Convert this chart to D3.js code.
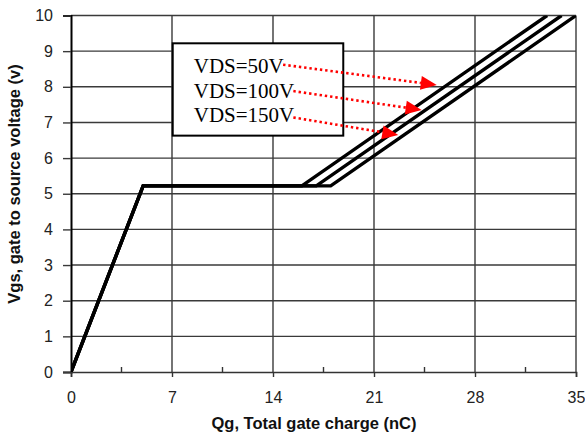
<!DOCTYPE html>
<html>
<head>
<meta charset="utf-8">
<script src="https://cdn.jsdelivr.net/npm/d3@7"></script>
<style>
  body { margin: 0; background: #fff; }
  svg { display: block; }
</style>
</head>
<body>
<svg width="585" height="439"></svg>
<script>
// curve data: Qg (nC) at each break point, one row per VDS
var seriesNames = ["VDS=50V", "VDS=100V", "VDS=150V"];
var qgPoints = [[0, 5, 16, 33], [0, 5, 17, 34], [0, 5, 18, 35]];
var vgsPoints = [0, 5.22, 5.22, 10];

var xTicks = [0, 7, 14, 21, 28, 35];
var xMinor = [3.5, 10.5, 17.5, 24.5, 31.5];
var yTicks = [0, 1, 2, 3, 4, 5, 6, 7, 8, 9, 10];

// legend box and arrow annotations, in data units
var boxQg = [7.05, 18.87];
var boxVgs = [9.22, 6.63];
var arrowFrom = [[14.7, 8.62], [15.41, 7.88], [15.41, 7.14]];
var arrowTo = [[25.35, 8.05], [24.3, 7.35], [22.68, 6.65]];

var svg = d3.select("svg");
var x = d3.scaleLinear().domain([0, 35]).range([71, 576]);
var y = d3.scaleLinear().domain([0, 10]).range([372, 15.5]);

// clip
svg.append("clipPath").attr("id", "plot")
    .append("rect")
    .attr("x", x(0)).attr("y", y(10))
    .attr("width", x(35) - x(0)).attr("height", y(0) - y(10));

// horizontal grid
svg.append("g").selectAll("line")
    .data(yTicks.slice(1))
    .enter().append("line")
    .attr("x1", x(0)).attr("x2", x(35))
    .attr("y1", function (d) { return y(d); })
    .attr("y2", function (d) { return y(d); })
    .style("stroke", "#3a3a3a")
    .style("stroke-width", 1.4);

// vertical grid
svg.append("g").selectAll("line")
    .data(xTicks.slice(1))
    .enter().append("line")
    .attr("x1", function (d) { return x(d); })
    .attr("x2", function (d) { return x(d); })
    .attr("y1", y(0)).attr("y2", y(10))
    .style("stroke", "#3a3a3a")
    .style("stroke-width", 1.4);

// y axis
var yAxis = svg.append("g")
    .attr("transform", "translate(" + x(0) + ",0)")
    .call(d3.axisLeft(y).tickValues(yTicks).tickSize(8).tickPadding(10).tickFormat(d3.format("d")));
yAxis.select(".domain").style("stroke", "#000").style("stroke-width", 2);
yAxis.selectAll(".tick line").style("stroke", "#3a3a3a").style("stroke-width", 1.4);
yAxis.selectAll("text")
    .style("font-family", "Liberation Sans, Arial, sans-serif")
    .style("font-size", "16px")
    .style("fill", "#222");

// x axis
var xAxis = svg.append("g")
    .attr("transform", "translate(0," + y(0) + ")")
    .call(d3.axisBottom(x).tickValues(xTicks).tickSize(5).tickPadding(15).tickFormat(d3.format("d")));
xAxis.select(".domain").style("stroke", "#333").style("stroke-width", 1.6);
xAxis.selectAll(".tick line").style("stroke", "#333").style("stroke-width", 1.4);
xAxis.selectAll("text")
    .style("font-family", "Liberation Sans, Arial, sans-serif")
    .style("font-size", "16px")
    .style("fill", "#222");

// minor ticks inside the plot
svg.append("g").selectAll("line")
    .data(xMinor)
    .enter().append("line")
    .attr("x1", function (d) { return x(d); })
    .attr("x2", function (d) { return x(d); })
    .attr("y1", y(0)).attr("y2", y(0) - 5)
    .style("stroke", "#333")
    .style("stroke-width", 1.4);

// curves
var line = d3.line()
    .x(function (d) { return x(d[0]); })
    .y(function (d) { return y(d[1]); });

svg.append("g").attr("clip-path", "url(#plot)")
    .selectAll("path")
    .data(qgPoints)
    .enter().append("path")
    .attr("d", function (row) {
        return line(row.map(function (q, i) { return [q, vgsPoints[i]]; }));
    })
    .style("fill", "none")
    .style("stroke", "#000")
    .style("stroke-width", 3.4)
    .style("stroke-linejoin", "miter");

// legend box
svg.append("rect")
    .attr("x", x(boxQg[0])).attr("y", y(boxVgs[0]))
    .attr("width", x(boxQg[1]) - x(boxQg[0]))
    .attr("height", y(boxVgs[1]) - y(boxVgs[0]))
    .style("fill", "#fff")
    .style("stroke", "#000")
    .style("stroke-width", 2);

svg.append("g").selectAll("text")
    .data(seriesNames)
    .enter().append("text")
    .attr("x", x(boxQg[0]) + 21)
    .attr("y", function (d, i) { return y(boxVgs[0]) + 30 + i * 24.5; })
    .style("font-family", "Liberation Serif, Times New Roman, serif")
    .style("font-size", "21px")
    .style("fill", "#000")
    .text(function (d) { return d; });

// red dotted arrows
var arrows = svg.append("g");
arrowFrom.forEach(function (f, i) {
    var t = arrowTo[i];
    var x0 = x(f[0]), y0 = y(f[1]), x1 = x(t[0]), y1 = y(t[1]);
    var dx = x1 - x0, dy = y1 - y0, len = Math.sqrt(dx * dx + dy * dy);
    var ux = dx / len, uy = dy / len;
    var bx = x1 - ux * 16, by = y1 - uy * 16;
    arrows.append("line")
        .attr("x1", x0).attr("y1", y0)
        .attr("x2", bx).attr("y2", by)
        .style("stroke", "#ff0000")
        .style("stroke-width", 2.6)
        .style("stroke-dasharray", "2.4,2.9");
    arrows.append("path")
        .attr("d", "M" + x1 + "," + y1 +
            "L" + (bx - uy * 7) + "," + (by + ux * 7) +
            "L" + (bx + uy * 7) + "," + (by - ux * 7) + "Z")
        .style("fill", "#ff0000");
});

// axis titles
svg.append("text")
    .attr("x", 314)
    .attr("y", 429)
    .attr("text-anchor", "middle")
    .style("font-family", "Liberation Sans, Arial, sans-serif")
    .style("font-weight", "bold")
    .style("font-size", "16.5px")
    .style("fill", "#111")
    .text("Qg, Total gate charge (nC)");

svg.append("text")
    .attr("transform", "translate(20,184) rotate(-90)")
    .attr("text-anchor", "middle")
    .style("font-family", "Liberation Sans, Arial, sans-serif")
    .style("font-weight", "bold")
    .style("font-size", "16.5px")
    .style("fill", "#111")
    .text("Vgs, gate to source voltage (v)");
</script>
</body>
</html>
